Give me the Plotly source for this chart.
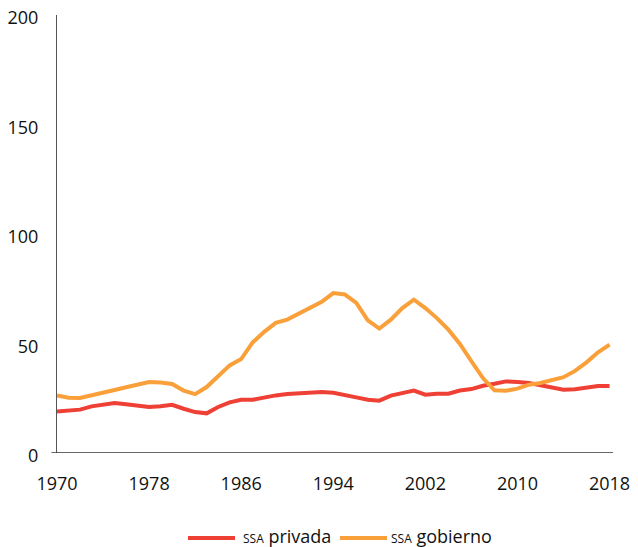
import plotly.graph_objects as go

# years on the x axis
years = list(range(1970, 2019))

# SSA privada (red)
ssa_privada = [19.0, 19.3, 19.8, 21.3, 22.2, 22.8, 22.3, 21.6, 21.0, 21.3,
               22.0, 20.2, 18.7, 18.1, 21.0, 23.1, 24.3, 24.3, 25.4, 26.3,
               26.9, 27.3, 27.8, 27.8, 27.5, 26.6, 25.4, 24.3, 23.9, 26.2,
               27.4, 28.5, 26.6, 27.1, 27.1, 28.5, 29.2, 30.7, 31.6, 32.7,
               32.4, 32.0, 30.9, 29.7, 28.9, 29.1, 29.7, 30.6, 30.6]

# SSA gobierno (orange)
ssa_gobierno = [26.3, 25.2, 25.1, 26.2, 27.7, 28.8, 30.0, 31.3, 32.4, 32.2,
                31.5, 28.5, 26.9, 30.1, 35.0, 40.0, 42.9, 50.5, 55.3, 59.4,
                60.9, 63.7, 66.7, 69.0, 73.0, 72.4, 68.5, 60.6, 56.8, 60.9,
                66.2, 70.0, 66.2, 61.6, 56.3, 49.8, 41.9, 34.2, 28.6, 28.4,
                29.4, 31.2, 32.0, 33.2, 34.6, 37.5, 41.4, 46.0, 49.5]

series_names = ["<span style='font-size:12px'>SSA</span> privada",
                "<span style='font-size:12px'>SSA</span> gobierno"]
series_colors = ['#EE4035', '#F9A03A']

x_ticks = [1970, 1978, 1986, 1994, 2002, 2010, 2018]
y_ticks = [0, 50, 100, 150, 200]

fig = go.Figure()

for vals, name, col in zip([ssa_privada, ssa_gobierno], series_names, series_colors):
    fig.add_trace(go.Scatter(x=years, y=vals, mode='lines', name=name,
                             line=dict(color=col, width=4), showlegend=False))

# x axis line pokes a little to the left of the y axis
fig.add_shape(type='line', xref='paper', yref='y',
              x0=-0.01, x1=1, y0=0, y1=0,
              line=dict(color='#333333', width=1.5))

# legend drawn by hand so it can sit right at the bottom edge
leg_y = -0.194
leg_items = [(0.2356, 0.3201, 0.331), (0.509, 0.5935, 0.597)]
for (x0, x1, xt), name, col in zip(leg_items, series_names, series_colors):
    fig.add_shape(type='line', xref='paper', yref='paper',
                  x0=x0, x1=x1, y0=leg_y, y1=leg_y,
                  line=dict(color=col, width=4))
    fig.add_annotation(xref='paper', yref='paper', x=xt, y=leg_y + 0.004,
                       xanchor='left', yanchor='middle', showarrow=False,
                       text=name, font=dict(size=18, color='#111111'))

# page body has an 8px margin, so the figure is 8px smaller and margins shifted
fig.update_layout(
    width=630, height=539,
    margin=dict(l=49, r=25, t=7, b=94),
    paper_bgcolor='white', plot_bgcolor='white',
    font=dict(family='Open Sans', size=18, color='#111111'),
    showlegend=False,
    xaxis=dict(range=[1970, 2018.3], tickvals=x_ticks, showgrid=False,
               zeroline=False, showline=False, automargin=False,
               ticklabeloverflow='allow',
               ticks='outside', ticklen=14, tickcolor='rgba(0,0,0,0)'),
    yaxis=dict(range=[0, 200], tickvals=y_ticks, showgrid=False,
               zeroline=False, showline=True, linecolor='#555555', linewidth=1,
               automargin=False, ticklabeloverflow='allow', ticklabelshift=3,
               ticks='outside', ticklen=14, tickcolor='rgba(0,0,0,0)'),
)

fig.write_html('out.html')
